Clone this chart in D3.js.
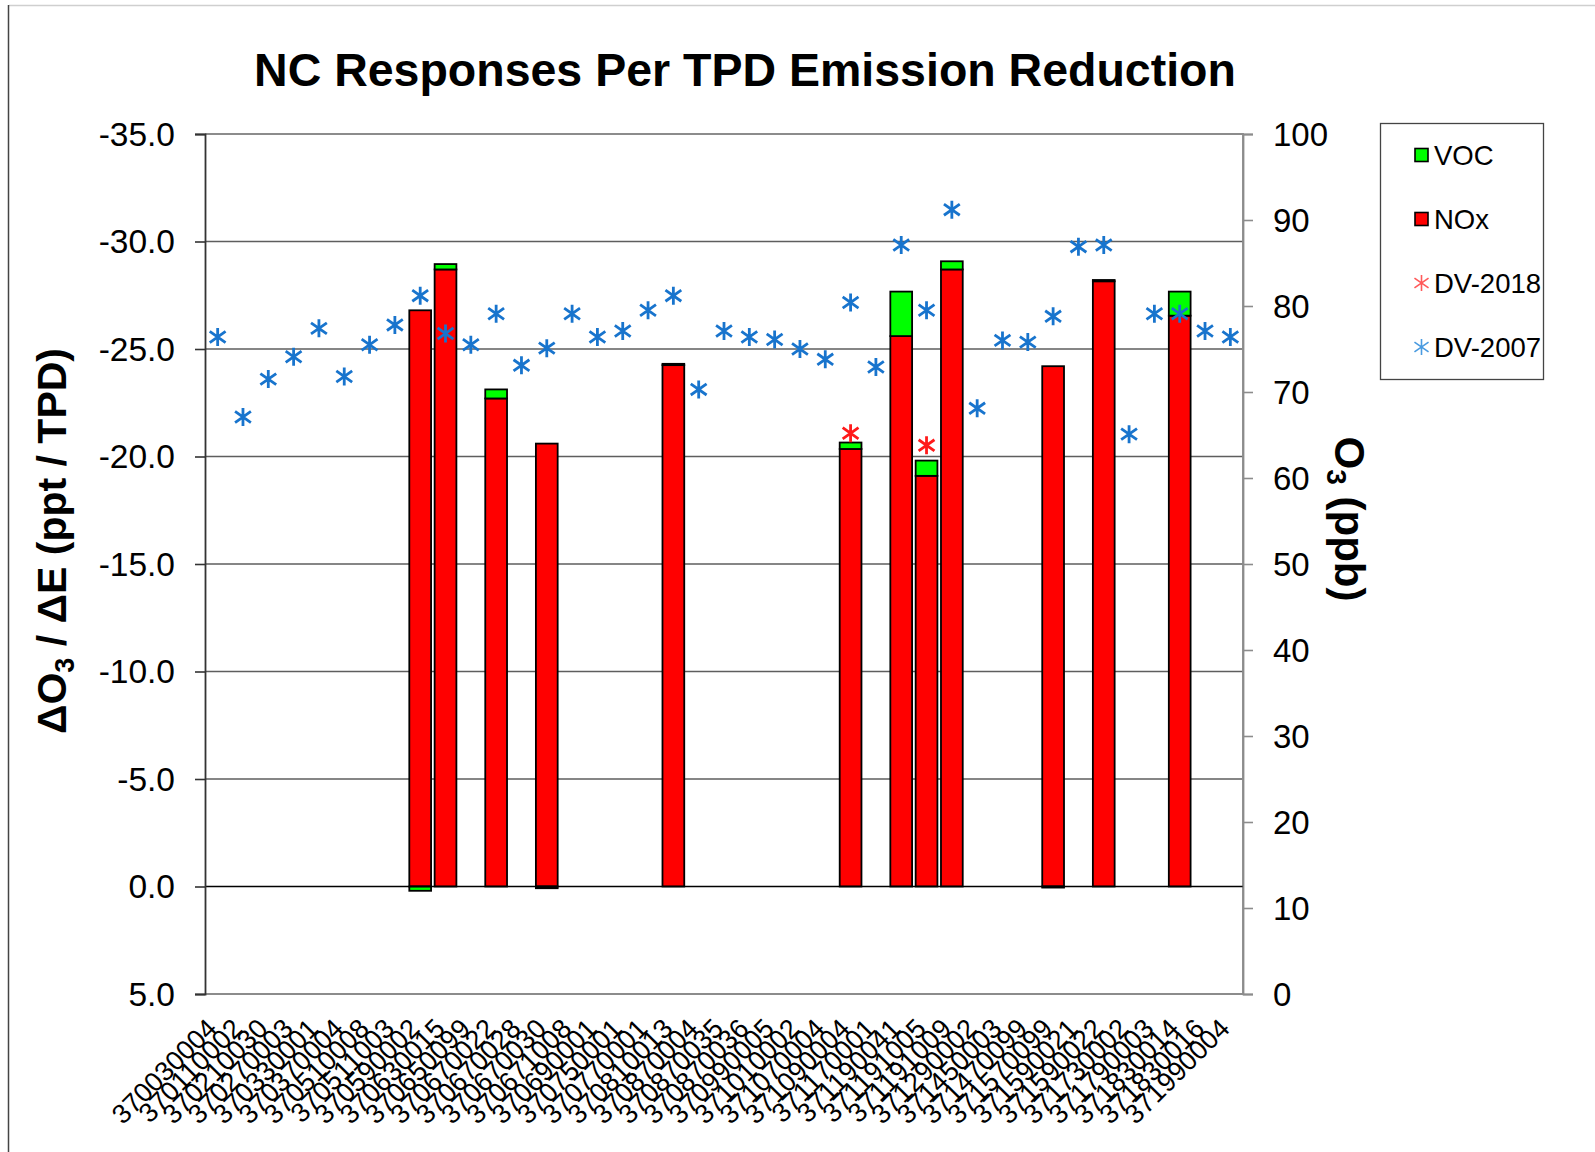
<!DOCTYPE html>
<html>
<head>
<meta charset="utf-8">
<script src="https://cdn.jsdelivr.net/npm/d3@7"></script>
<style>
  html, body { margin: 0; padding: 0; background: #fff; }
  svg { display: block; font-family: "Liberation Sans", Arial, sans-serif; }
</style>
</head>
<body>
<svg id="chart" width="1595" height="1152"></svg>
<script>
// ---------------- data ----------------
const sites = ["370030004","370110002","370210030","370270003","370330001","370370004","370510008","370511003","370590002","370630015","370650099","370670022","370670028","370670030","370671008","370690001","370750001","370770001","370810013","370870004","370870035","370870036","370990005","371010002","371070004","371090004","371170001","371190041","371191005","371191009","371290002","371450003","371470099","371570099","371590021","371590022","371730002","371790003","371830014","371830016","371990004"];

// NOx response (ppt / TPD), null = no bar
const noxValues = [null,null,null,null,null,null,null,null,-26.8,-28.7,null,-22.7,null,-20.6,null,null,null,null,-24.25,null,null,null,null,null,null,-20.35,null,-25.6,-19.1,-28.7,null,null,null,-24.2,null,-28.15,null,null,-26.55,null,null];

// VOC response (ppt / TPD), null = no bar
const vocValues = [null,null,null,null,null,null,null,null,0.2,-0.25,null,-0.42,null,0.08,null,null,null,null,-0.06,null,null,null,null,null,null,-0.3,null,-2.07,-0.71,-0.38,null,null,null,0.05,null,-0.06,null,null,-1.12,null,null];

// Design values (ppb)
const dv2007 = [76.4,67.1,71.5,74.1,77.4,71.8,75.5,77.8,81.2,76.8,75.5,79.1,73.1,75.1,79.1,76.4,77.1,79.5,81.2,70.3,77.1,76.4,76.1,75.0,73.8,80.4,72.9,87.1,79.5,91.2,68.1,76.0,75.8,78.8,86.9,87.1,65.1,79.1,79.1,77.1,76.4];
const dv2018 = [null,null,null,null,null,null,null,null,null,null,null,null,null,null,null,null,null,null,null,null,null,null,null,null,null,65.2,null,null,63.8,null,null,null,null,null,null,null,null,null,null,null,null];

const leftTicks = [-35,-30,-25,-20,-15,-10,-5,0,5];
const rightTicks = [0,10,20,30,40,50,60,70,80,90,100];
const legendItems = ["VOC","NOx","DV-2018","DV-2007"];

const titleText = "NC Responses Per TPD Emission Reduction";

// ---------------- layout ----------------
const W = 1595, H = 1152;
const plot = {left: 205, right: 1243, top: 134, bottom: 994};
const colors = {voc: "#00ff00", nox: "#ff0000", dv2018: "#ff1a1a", dv2007: "#1874cd"};

const svg = d3.select("#chart");

// outer frame lines
svg.append("line").attr("x1", 9).attr("x2", W).attr("y1", 5.5).attr("y2", 5.5)
  .attr("stroke", "#cfcfcf").attr("stroke-width", 1.5);
svg.append("line").attr("x1", 8.5).attr("x2", 8.5).attr("y1", 5).attr("y2", H)
  .attr("stroke", "#444").attr("stroke-width", 1.5);

const x = d3.scaleBand().domain(sites).range([plot.left, plot.right]).paddingInner(0.14).paddingOuter(0.07);
const xc = d3.scaleBand().domain(sites).range([plot.left, plot.right]);
const y = d3.scaleLinear().domain([-35, 5]).range([plot.top, plot.bottom]);
const y2 = d3.scaleLinear().domain([0, 100]).range([plot.bottom, plot.top]);

// gridlines
svg.append("g").selectAll("line").data(leftTicks.filter(d => d > -35 && d < 5 && d !== 0))
  .join("line")
  .attr("x1", plot.left).attr("x2", plot.right)
  .attr("y1", d => y(d)).attr("y2", d => y(d))
  .attr("stroke", "#5e5e5e").attr("stroke-width", 1.6);

// plot frame (top, right, bottom)
svg.append("path")
  .attr("d", `M${plot.left},${plot.top}H${plot.right}V${plot.bottom}H${plot.left}`)
  .attr("fill", "none").attr("stroke", "#8c8c8c").attr("stroke-width", 1.8);

// ---------------- bars ----------------
const barData = sites.map((s, i) => ({site: s, nox: noxValues[i], voc: vocValues[i]})).filter(d => d.nox !== null);
const gBars = svg.append("g");
barData.forEach(d => {
  gBars.append("rect")
    .attr("x", x(d.site)).attr("width", x.bandwidth())
    .attr("y", Math.min(y(0), y(d.nox)))
    .attr("height", Math.abs(y(d.nox) - y(0)))
    .attr("fill", colors.nox).attr("stroke", "#000").attr("stroke-width", 1.8);
  if (d.voc !== null) {
    let a, b;
    if (d.voc < 0) { a = d.nox; b = d.nox + d.voc; } else { a = 0; b = d.voc; }
    gBars.append("rect")
      .attr("x", x(d.site)).attr("width", x.bandwidth())
      .attr("y", Math.min(y(a), y(b)))
      .attr("height", Math.abs(y(b) - y(a)))
      .attr("fill", colors.voc).attr("stroke", "#000").attr("stroke-width", 1.8);
  }
});

// zero line
svg.append("line").attr("x1", plot.left).attr("x2", plot.right)
  .attr("y1", y(0)).attr("y2", y(0)).attr("stroke", "#000").attr("stroke-width", 1.6);

// ---------------- axes ----------------
const leftAxis = d3.axisLeft(y).tickValues(leftTicks).tickSize(10).tickPadding(20).tickFormat(d3.format(".1f"));
const gL = svg.append("g").attr("transform", `translate(${plot.left},0)`).call(leftAxis);
gL.select(".domain").attr("stroke", "#333").attr("stroke-width", 1.8);
gL.selectAll(".tick line").attr("stroke", "#333").attr("stroke-width", 1.6);
gL.selectAll(".tick text").attr("font-size", 33.5).attr("fill", "#000")
  .attr("font-family", "Liberation Sans, Arial, sans-serif").attr("dy", "0.34em")
  .text(d => d3.format(".1f")(d).replace("−", "-"));

const rightAxis = d3.axisRight(y2).tickValues(rightTicks).tickSize(10).tickPadding(20).tickFormat(d3.format("d"));
const gR = svg.append("g").attr("transform", `translate(${plot.right},0)`).call(rightAxis);
gR.select(".domain").attr("stroke", "#8c8c8c").attr("stroke-width", 1.8);
gR.selectAll(".tick line").attr("stroke", "#8c8c8c").attr("stroke-width", 1.6);
gR.selectAll(".tick text").attr("font-size", 33).attr("fill", "#000")
  .attr("font-family", "Liberation Sans, Arial, sans-serif").attr("dy", "0.34em");

// x labels
const gX = svg.append("g");
gX.selectAll("text").data(sites).join("text")
  .attr("transform", d => `translate(${xc(d) + xc.bandwidth() / 2 + 1},${plot.bottom + 36}) rotate(-45)`)
  .attr("text-anchor", "end")
  .attr("font-size", 27)
  .attr("fill", "#000")
  .text(d => d);

// ---------------- markers ----------------
function starPath(cx, cy, r) {
  const k = r * 0.88, v = r * 0.62;
  return `M${cx},${cy - r}V${cy + r}M${cx - k},${cy - v}L${cx + k},${cy + v}M${cx - k},${cy + v}L${cx + k},${cy - v}`;
}
const gM = svg.append("g");
sites.forEach((s, i) => {
  const cx = xc(s) + xc.bandwidth() / 2;
  if (dv2007[i] !== null) {
    gM.append("path").attr("d", starPath(cx, y2(dv2007[i]), 9))
      .attr("stroke", colors.dv2007).attr("stroke-width", 2.8).attr("fill", "none");
  }
});
sites.forEach((s, i) => {
  const cx = xc(s) + xc.bandwidth() / 2;
  if (dv2018[i] !== null) {
    gM.append("path").attr("d", starPath(cx, y2(dv2018[i]), 9))
      .attr("stroke", colors.dv2018).attr("stroke-width", 2.8).attr("fill", "none");
  }
});

// ---------------- titles ----------------
svg.append("text").attr("x", 745).attr("y", 86).attr("text-anchor", "middle")
  .attr("font-size", 46.5).attr("font-weight", "bold").attr("fill", "#000").text(titleText);

const lt = svg.append("text").attr("transform", "translate(66,541) rotate(-90)")
  .attr("text-anchor", "middle").attr("font-size", 41).attr("font-weight", "bold").attr("fill", "#000");
lt.append("tspan").text("ΔO");
lt.append("tspan").attr("font-size", 27).attr("dy", 8).text("3");
lt.append("tspan").attr("dy", -8).text(" / ΔE (ppt / TPD)");

const rt = svg.append("text").attr("transform", "translate(1335,519) rotate(90)")
  .attr("text-anchor", "middle").attr("font-size", 42).attr("font-weight", "bold").attr("fill", "#000");
rt.append("tspan").text("O");
rt.append("tspan").attr("font-size", 28).attr("dy", 8).text("3");
rt.append("tspan").attr("dy", -8).text(" (ppb)");

// ---------------- legend ----------------
const lg = svg.append("g");
lg.append("rect").attr("x", 1380.5).attr("y", 123.5).attr("width", 163).attr("height", 256)
  .attr("fill", "#fff").attr("stroke", "#444").attr("stroke-width", 1.3);
const legendY = [155, 219, 283, 347];
legendItems.forEach((name, i) => {
  const cy = legendY[i];
  if (i < 2) {
    lg.append("rect").attr("x", 1415).attr("y", cy - 6.5).attr("width", 13).attr("height", 13)
      .attr("fill", i === 0 ? colors.voc : colors.nox).attr("stroke", "#000").attr("stroke-width", 1.6);
  } else {
    lg.append("path").attr("d", starPath(1421.5, cy, 8))
      .attr("stroke", i === 2 ? "#ff5a5a" : "#4a9be0").attr("stroke-width", 1.6).attr("fill", "none");
  }
  lg.append("text").attr("x", 1434).attr("y", cy).attr("dy", "0.36em")
    .attr("font-size", 27.5).attr("fill", "#000").text(name);
});
</script>
</body>
</html>
